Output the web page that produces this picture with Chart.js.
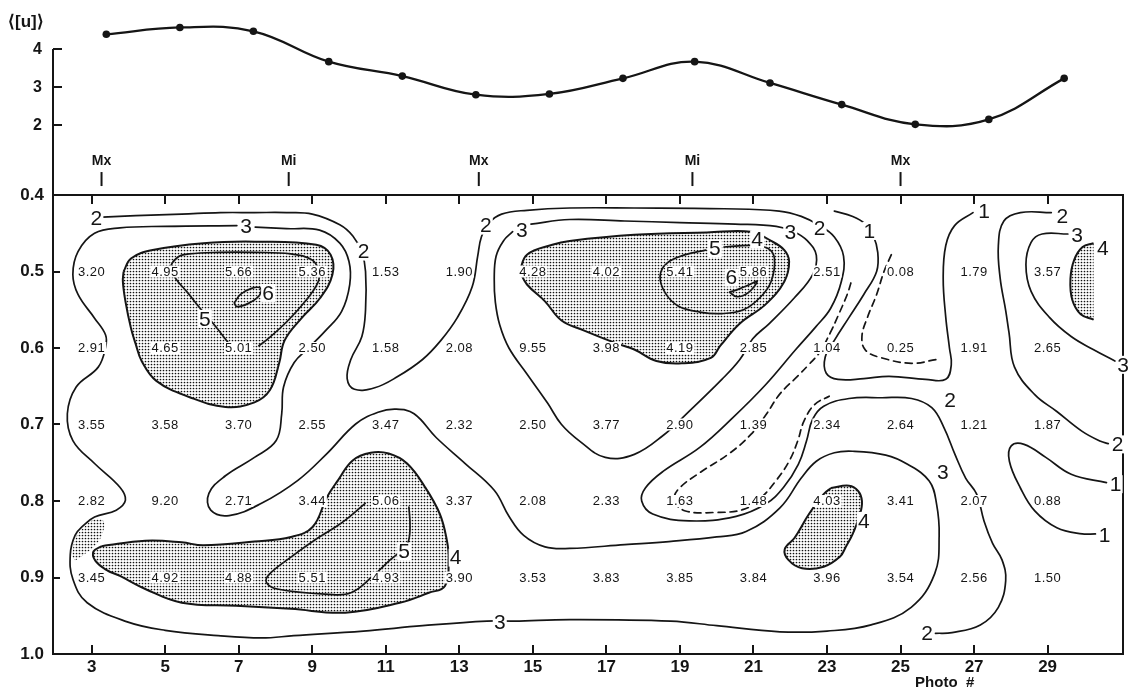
<!DOCTYPE html>
<html>
<head>
<meta charset="utf-8">
<title>Photo # profile</title>
<script src="https://cdn.jsdelivr.net/npm/chart.js@4.4.0/dist/chart.umd.min.js"></script>
<style>
  html, body { margin: 0; background: #fff; }
  #wrap { position: relative; width: 1132px; height: 694px; }
  #wrap canvas { position: absolute; left: 0; top: 0; }
</style>
</head>
<body>
<div id="wrap">
  <canvas id="top" width="1132" height="694"></canvas>
  <canvas id="map" width="1132" height="694"></canvas>
</div>
<script>
// ---- top panel: <[u]> against photo number
const topPhoto = [3.4, 5.4, 7.4, 9.45, 11.45, 13.45, 15.45, 17.45, 19.4, 21.45, 23.4, 25.4, 27.4, 29.45];
const topU = [4.39, 4.57, 4.47, 3.67, 3.29, 2.80, 2.82, 3.23, 3.67, 3.11, 2.54, 2.02, 2.15, 3.23];
const uTicks = [2, 3, 4];
const markPhoto = [3.27, 8.36, 13.53, 19.34, 25.0];
const markText = ['Mx', 'Mi', 'Mx', 'Mi', 'Mx'];

// ---- lower panel: values per photo (columns) and r' (rows)
const photos = [3, 5, 7, 9, 11, 13, 15, 17, 19, 21, 23, 25, 27, 29];
const rows = [0.5, 0.6, 0.7, 0.8, 0.9];
const row05 = [3.20, 4.95, 5.66, 5.36, 1.53, 1.90, 4.28, 4.02, 5.41, 5.86, 2.51, 0.08, 1.79, 3.57];
const row06 = [2.91, 4.65, 5.01, 2.50, 1.58, 2.08, 9.55, 3.98, 4.19, 2.85, 1.04, 0.25, 1.91, 2.65];
const row07 = [3.55, 3.58, 3.70, 2.55, 3.47, 2.32, 2.50, 3.77, 2.90, 1.39, 2.34, 2.64, 1.21, 1.87];
const row08 = [2.82, 9.20, 2.71, 3.44, 5.06, 3.37, 2.08, 2.33, 1.63, 1.48, 4.03, 3.41, 2.07, 0.88];
const row09 = [3.45, 4.92, 4.88, 5.51, 4.93, 3.90, 3.53, 3.83, 3.85, 3.84, 3.96, 3.54, 2.56, 1.50];
const xTicks = [3, 5, 7, 9, 11, 13, 15, 17, 19, 21, 23, 25, 27, 29];
const rTicks = [0.4, 0.5, 0.6, 0.7, 0.8, 0.9, 1.0];

// contour lines, as [photo, r'] pairs
const c2Long = [[3.3,0.429],[4.2,0.427],[5.45,0.425],[6.5,0.423],[7.43,0.423],[8.3,0.423],[9.0,0.425],[9.75,0.439],[10.11,0.454],[10.35,0.475],[10.45,0.5],[10.45,0.55],[10.35,0.585],[10.05,0.615],[9.95,0.64],[10.15,0.654],[10.7,0.652],[11.3,0.638],[12.0,0.615],[12.5,0.59],[12.95,0.56],[13.35,0.52],[13.5,0.48],[13.6,0.455],[13.8,0.437],[14.15,0.425],[14.84,0.42],[16.0,0.417],[17.76,0.417],[20.2,0.418],[21.7,0.421],[22.3,0.428],[22.8,0.44],[23.2,0.455],[23.45,0.48],[23.39,0.513],[23.1,0.548],[22.7,0.572],[22.15,0.602],[21.33,0.648],[20.44,0.691],[19.54,0.73],[18.55,0.761],[18.06,0.783],[17.96,0.8],[18.26,0.817],[19.25,0.826],[20.53,0.82],[21.33,0.804],[21.82,0.782],[22.22,0.752],[22.44,0.722],[22.61,0.693],[22.91,0.676],[23.6,0.666],[24.5,0.665],[25.3,0.666],[25.85,0.678],[26.18,0.704],[26.48,0.739],[26.77,0.77],[27.07,0.791],[27.27,0.826],[27.5,0.855],[27.76,0.877],[27.86,0.904],[27.66,0.939],[27.17,0.962],[26.4,0.972],[25.95,0.973]];
const c3Left = [[7.45,0.442],[8.3,0.444],[9.2,0.446],[9.75,0.463],[10.0,0.487],[10.02,0.517],[9.8,0.552],[9.35,0.578],[8.9,0.6],[8.51,0.619],[8.22,0.651],[8.17,0.686],[8.02,0.721],[7.43,0.743],[6.64,0.767],[6.19,0.79],[6.24,0.812],[6.74,0.819],[7.62,0.803],[8.61,0.773],[9.4,0.738],[10.19,0.699],[10.79,0.684],[11.28,0.68],[11.77,0.686],[12.37,0.717],[13.16,0.751],[13.95,0.786],[14.35,0.82],[14.75,0.845],[15.33,0.86],[16.0,0.862],[17.5,0.857],[18.7,0.853],[20.0,0.847],[20.8,0.84],[21.72,0.809],[22.3,0.77],[22.71,0.748],[23.2,0.737],[23.7,0.735],[24.6,0.74],[25.19,0.752],[25.78,0.774],[25.98,0.804],[26.05,0.845],[25.93,0.895],[25.29,0.939],[24.2,0.962],[23.0,0.97],[21.72,0.971],[20.0,0.963],[18.75,0.957],[16.0,0.955],[14.5,0.957],[13.75,0.957],[12.0,0.963],[10.39,0.97],[8.5,0.976],[7.62,0.979],[6.44,0.976],[5.0,0.969],[3.97,0.958],[2.88,0.933],[2.49,0.902],[2.42,0.87],[2.55,0.845],[2.78,0.832],[3.08,0.821],[3.67,0.812],[3.92,0.799],[3.77,0.782],[3.08,0.751],[2.49,0.721],[2.34,0.686],[2.58,0.651],[3.18,0.625],[3.38,0.599],[3.38,0.583],[3.08,0.561],[2.63,0.53],[2.49,0.504],[2.63,0.474],[3.08,0.45],[3.77,0.443],[5.0,0.441],[6.95,0.44]];
const c3Mid = [[14.95,0.438],[16.0,0.432],[17.5,0.434],[19.0,0.436],[20.5,0.438],[21.62,0.441],[22.1,0.448],[22.47,0.46],[22.71,0.479],[22.61,0.504],[22.12,0.534],[21.43,0.568],[20.98,0.588],[20.63,0.615],[20.14,0.641],[19.2,0.685],[18.55,0.714],[17.76,0.739],[16.97,0.743],[16.28,0.722],[15.78,0.7],[15.4,0.672],[14.84,0.634],[14.35,0.6],[14.1,0.57],[13.98,0.54],[13.95,0.51],[14.0,0.48],[14.2,0.46],[14.45,0.448]];
const c5Left = [[6.7,0.592],[6.34,0.57],[5.95,0.548],[5.6,0.527],[5.3,0.51],[5.15,0.495],[5.35,0.481],[5.65,0.477],[6.44,0.475],[7.43,0.475],[8.42,0.477],[9.0,0.485],[9.18,0.5],[9.15,0.515],[8.81,0.539],[8.32,0.565],[7.82,0.587],[7.55,0.597]];
const c6Left = [[6.88,0.541],[7.05,0.53],[7.35,0.522],[7.6,0.522],[7.55,0.532],[7.25,0.542],[6.95,0.546],[6.88,0.541]];
const c5Mid = [[20.2,0.468],[21.0,0.466],[21.4,0.47],[21.57,0.483],[21.48,0.513],[21.18,0.534],[20.73,0.55],[20.14,0.555],[19.54,0.553],[18.95,0.545],[18.6,0.528],[18.46,0.506],[18.65,0.489],[19.15,0.478],[19.7,0.472]];
const c6Mid = [[20.35,0.527],[20.55,0.533],[20.85,0.528],[21.1,0.513],[20.9,0.517],[20.6,0.523],[20.35,0.527]];
const c1Solid = [[23.2,0.421],[23.7,0.428],[24.05,0.438],[24.25,0.452],[24.38,0.475],[24.35,0.5],[24.0,0.53],[23.6,0.56],[23.2,0.59],[22.95,0.612],[22.98,0.633],[23.3,0.641],[24.0,0.64],[24.69,0.637],[25.68,0.641],[26.23,0.641],[26.38,0.622],[26.33,0.6],[26.23,0.56],[26.16,0.509],[26.23,0.466],[26.47,0.44],[26.97,0.423]];
const dashU = [[23.65,0.515],[23.55,0.53],[23.3,0.558],[23.1,0.579],[22.81,0.605],[22.5,0.622],[22.22,0.636],[21.72,0.66],[21.33,0.688],[20.93,0.713],[20.34,0.738],[19.54,0.763],[18.95,0.785],[18.85,0.8],[19.15,0.813],[19.94,0.815],[20.73,0.811],[21.18,0.797],[21.62,0.773],[21.97,0.748],[22.2,0.722],[22.37,0.696],[22.66,0.674],[23.06,0.663]];
const dashA = [[24.75,0.478],[24.55,0.5],[24.35,0.53],[24.1,0.56],[23.95,0.585],[24.05,0.603],[24.5,0.613],[25.3,0.62],[25.98,0.615]];
const c3Right = [[29.55,0.451],[28.85,0.451],[28.55,0.462],[28.41,0.491],[28.55,0.526],[29.05,0.56],[29.64,0.585],[30.24,0.602],[30.83,0.617]];
const c2Right = [[29.1,0.423],[28.26,0.423],[27.81,0.434],[27.66,0.466],[27.71,0.509],[27.86,0.551],[27.95,0.58],[28.1,0.625],[28.65,0.661],[29.25,0.683],[29.94,0.709],[30.44,0.722],[30.65,0.725]];
const c1Right = [[30.6,0.776],[29.64,0.765],[28.95,0.743],[28.36,0.726],[28.01,0.728],[27.96,0.748],[28.26,0.783],[28.65,0.813],[29.25,0.835],[29.94,0.843],[30.3,0.843]];
const c5Bottom = [[11.63,0.808],[11.66,0.834],[11.6,0.855],[11.4,0.866],[11.14,0.876],[10.65,0.898],[10.05,0.92],[9.45,0.922],[8.05,0.915],[7.75,0.906],[7.85,0.895],[8.4,0.874],[9.1,0.85],[9.6,0.835],[9.9,0.825],[10.44,0.803]];
// shaded (stippled) areas, value above 4
const s4Left = [[3.87,0.5],[4.07,0.483],[4.66,0.472],[6.04,0.463],[7.43,0.461],[9.11,0.465],[9.5,0.478],[9.55,0.504],[9.21,0.535],[8.71,0.561],[8.25,0.59],[8.1,0.62],[7.85,0.655],[7.43,0.671],[6.64,0.677],[5.65,0.664],[4.76,0.643],[4.36,0.617],[4.2,0.595],[4.07,0.574],[3.92,0.539],[3.85,0.513],[3.87,0.5]];
const s4Mid = [[14.64,0.5],[14.84,0.478],[15.53,0.465],[16.0,0.46],[17.76,0.452],[19.74,0.449],[20.93,0.448],[21.48,0.46],[21.84,0.472],[21.97,0.487],[21.84,0.513],[21.33,0.543],[20.63,0.568],[20.1,0.597],[19.84,0.613],[19.05,0.62],[18.36,0.617],[17.76,0.602],[17.27,0.594],[16.38,0.577],[15.78,0.564],[15.33,0.539],[14.84,0.517],[14.64,0.5]];
const s4Right = [[30.25,0.463],[29.95,0.468],[29.72,0.485],[29.62,0.51],[29.67,0.537],[29.9,0.556],[30.25,0.563]];
const s4Small = [[23.11,0.783],[23.6,0.78],[23.85,0.787],[23.95,0.8],[23.9,0.817],[23.7,0.843],[23.5,0.861],[23.35,0.873],[22.91,0.886],[22.32,0.888],[21.95,0.877],[21.85,0.863],[22.12,0.848],[22.51,0.817],[22.91,0.791],[23.11,0.783]];
const s4Bottom = [[3.28,0.859],[4.46,0.852],[5.45,0.854],[6.04,0.858],[7.43,0.853],[8.42,0.847],[9.01,0.834],[9.4,0.795],[9.7,0.773],[10.1,0.747],[10.59,0.737],[11.08,0.738],[11.58,0.751],[12.07,0.782],[12.47,0.817],[12.66,0.851],[12.71,0.876],[12.61,0.911],[12.17,0.92],[11.38,0.933],[9.9,0.946],[8.42,0.941],[6.93,0.937],[5.45,0.933],[4.46,0.915],[3.77,0.898],[3.4,0.89],[3.1,0.878],[3.05,0.866],[3.28,0.859]];
const s4Patch = [[2.47,0.872],[2.56,0.849],[2.78,0.835],[3.08,0.824],[3.32,0.826],[3.3,0.842],[3.1,0.858],[2.8,0.87],[2.55,0.878]];

// contour value labels
const lblText  = ['2','3','2','5','6','2','3','4','5','6','3','2','1','1','2','3','4','3','2','2','1','1','3','4','3','2','4','5'];
const lblPhoto = [3.13,7.2,10.4,6.08,7.8,13.72,14.7,21.1,19.95,20.4,22.0,22.8,24.15,27.27,29.4,29.8,30.5,31.05,26.35,30.9,30.85,30.55,26.15,24.0,14.1,25.72,12.9,11.5];
const lblR     = [0.43,0.441,0.474,0.562,0.528,0.44,0.446,0.458,0.47,0.508,0.449,0.443,0.447,0.421,0.428,0.452,0.469,0.622,0.668,0.726,0.778,0.845,0.762,0.826,0.958,0.973,0.874,0.866];

const INK = '#151515';
const FONT = '"Liberation Sans", Arial, sans-serif';
Chart.defaults.font.family = FONT;
Chart.defaults.color = INK;

const pts = a => a.map(([x, y]) => ({ x, y }));

// ---------------- top chart
const topText = {
  id: 'topText',
  afterDraw(chart) {
    const { ctx, chartArea, scales: { x, y } } = chart;
    ctx.save();
    ctx.fillStyle = INK;
    ctx.font = 'bold 17px ' + FONT;
    ctx.textAlign = 'left';
    ctx.textBaseline = 'middle';
    ctx.fillText('\u27E8[u]\u27E9', chartArea.left - 45, y.getPixelForValue(4) - 27);
    ctx.font = 'bold 14px ' + FONT;
    ctx.textAlign = 'center';
    markPhoto.forEach((p, i) => {
      ctx.fillText(markText[i], x.getPixelForValue(p), y.getPixelForValue(1.05));
    });
    ctx.restore();
  }
};

new Chart(document.getElementById('top'), {
  type: 'scatter',
  data: {
    datasets: [
      {
        data: pts(topPhoto.map((p, i) => [p, topU[i]])),
        showLine: true, tension: 0.4,
        borderColor: INK, borderWidth: 2.3,
        pointRadius: 3.8, pointBackgroundColor: INK, pointBorderWidth: 0
      },
      {
        data: pts(markPhoto.map(p => [p, 0.58])),
        pointStyle: 'line', rotation: 90, pointRadius: 7,
        pointBorderColor: INK, pointBorderWidth: 2
      },
      {
        // the left axis line of this panel starts at the 4 tick
        data: pts([[1.95, 0.16], [1.95, 4]]),
        showLine: true, clip: false, pointRadius: 0,
        borderColor: INK, borderWidth: 2
      }
    ]
  },
  options: {
    responsive: false, animation: false, devicePixelRatio: 1,
    layout: { padding: { left: 0, right: 9, top: 21, bottom: 499 } },
    plugins: { legend: { display: false }, tooltip: { enabled: false } },
    scales: {
      x: { type: 'linear', min: 1.95, max: 31.05, display: false },
      y: {
        min: 0.16, max: 4.74,
        afterBuildTicks: s => { s.ticks = uTicks.map(v => ({ value: v })); },
        afterFit: s => { s.width = 53; s.paddingTop = 0; s.paddingBottom = 0; },
        ticks: { padding: 20, font: { size: 16, weight: 'bold' }, color: INK },
        grid: { drawOnChartArea: false, tickLength: -9, color: INK, lineWidth: 2 },
        border: { display: false }
      }
    }
  },
  plugins: [topText]
});

// ---------------- lower chart
const mapCanvas = document.getElementById('map');
const tile = document.createElement('canvas');
tile.width = 3; tile.height = 3;
const tg = tile.getContext('2d');
tg.fillStyle = '#111';
tg.beginPath(); tg.arc(1.5, 1.5, 0.85, 0, Math.PI * 2); tg.fill();
const dots = mapCanvas.getContext('2d').createPattern(tile, 'repeat');

function line(a, dashed) {
  return {
    data: pts(a), showLine: true, tension: 0.4, pointRadius: 0,
    borderColor: INK, borderWidth: 1.7, borderDash: dashed ? [7, 5] : [],
    borderCapStyle: 'round', borderJoinStyle: 'round', fill: false
  };
}
function shade(a, stroke) {
  return {
    data: pts(a), showLine: true, tension: 0.4, pointRadius: 0,
    borderColor: stroke ? INK : 'rgba(0,0,0,0)', borderWidth: 2,
    borderJoinStyle: 'round', fill: 'shape', backgroundColor: dots
  };
}

const mapText = {
  id: 'mapText',
  afterDatasetsDraw(chart) {
    const { ctx, chartArea, scales: { x, y } } = chart;
    ctx.save();
    ctx.textAlign = 'center';
    ctx.textBaseline = 'middle';
    ctx.font = '13px ' + FONT;
    ctx.letterSpacing = '0.5px';
    [row05, row06, row07, row08, row09].forEach((vals, ri) => {
      const py = y.getPixelForValue(rows[ri]);
      vals.forEach((v, ci) => {
        const px = x.getPixelForValue(photos[ci]);
        const t = v.toFixed(2);
        const w = ctx.measureText(t).width;
        ctx.fillStyle = '#fff';
        ctx.fillRect(px - w / 2 - 1, py - 6, w + 2, 12);
        ctx.fillStyle = INK;
        ctx.fillText(t, px, py + 0.5);
      });
    });
    ctx.letterSpacing = '0px';
    ctx.font = '21px ' + FONT;
    lblText.forEach((t, i) => {
      const px = x.getPixelForValue(lblPhoto[i]);
      const py = y.getPixelForValue(lblR[i]);
      ctx.fillStyle = '#fff';
      ctx.fillRect(px - 7, py - 9, 14, 18);
      ctx.fillStyle = INK;
      ctx.fillText(t, px, py + 1);
    });
    ctx.font = 'bold 15px ' + FONT;
    ctx.fillText('Photo  #', x.getPixelForValue(26.2), chartArea.bottom + 29);
    ctx.restore();
  }
};

const tickFont = { size: 17, weight: 'bold' };
const axisGrid = { drawOnChartArea: false, tickLength: -9, color: INK, lineWidth: 2 };
const axisBorder = { color: INK, width: 2 };

new Chart(mapCanvas, {
  type: 'scatter',
  data: {
    datasets: [
      line(c2Long), line(c3Left), line(c3Mid), line(c5Left), line(c6Left),
      line(c5Mid), line(c6Mid), line(c1Solid), line(dashU, true), line(dashA, true),
      line(c3Right), line(c2Right), line(c1Right), line(c5Bottom),
      shade(s4Left, true), shade(s4Mid, true), shade(s4Right, true),
      shade(s4Small, true), shade(s4Bottom, true), shade(s4Patch, false)
    ]
  },
  options: {
    responsive: false, animation: false, devicePixelRatio: 1,
    layout: { padding: 0 },
    plugins: { legend: { display: false }, tooltip: { enabled: false } },
    scales: {
      x: {
        type: 'linear', position: 'bottom', min: 1.95, max: 31.05,
        afterBuildTicks: s => { s.ticks = xTicks.map(v => ({ value: v })); },
        afterFit: s => { s.height = 40; },
        ticks: { padding: 12, font: tickFont, color: INK, autoSkip: false, maxRotation: 0 },
        grid: axisGrid, border: axisBorder
      },
      xTop: {
        type: 'linear', position: 'top', min: 1.95, max: 31.05,
        afterBuildTicks: s => { s.ticks = xTicks.map(v => ({ value: v })); },
        afterFit: s => { s.height = 195; },
        ticks: { display: false },
        grid: axisGrid, border: axisBorder
      },
      y: {
        type: 'linear', position: 'left', reverse: true, min: 0.4, max: 1.0,
        afterBuildTicks: s => { s.ticks = rTicks.map(v => ({ value: v })); },
        afterFit: s => { s.width = 53; },
        ticks: { padding: 16, font: tickFont, color: INK, callback: v => v.toFixed(1) },
        grid: { drawOnChartArea: false, tickLength: -7, color: INK, lineWidth: 2 },
        border: axisBorder
      },
      yRight: {
        type: 'linear', position: 'right', min: 0.4, max: 1.0,
        afterFit: s => { s.width = 9; },
        ticks: { display: false },
        grid: { drawOnChartArea: false, drawTicks: false },
        border: axisBorder
      }
    }
  },
  plugins: [mapText]
});
</script>
</body>
</html>
